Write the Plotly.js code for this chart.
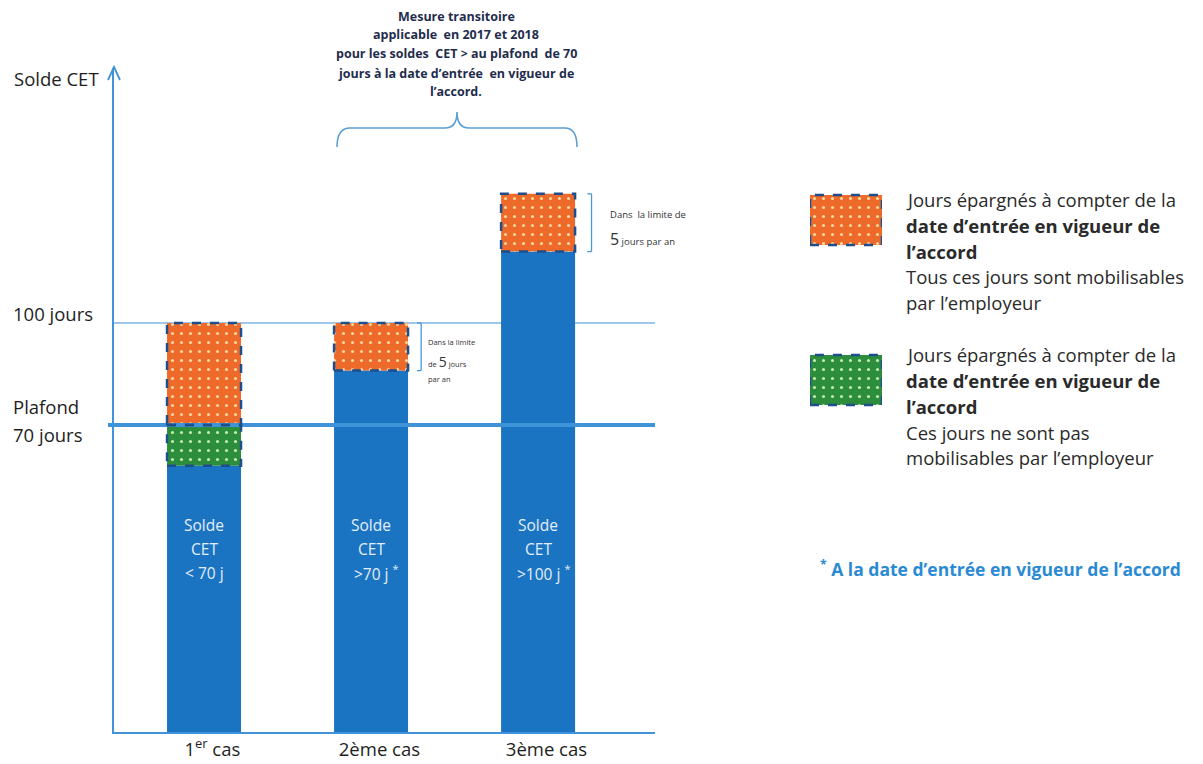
<!DOCTYPE html>
<html><head><meta charset="utf-8">
<script src="https://cdn.plot.ly/plotly-3.0.1.min.js"></script>
<style>html,body{margin:0;padding:0;background:#fff}#chart{width:1203px;height:764px}</style>
</head><body><div id="chart"></div>
<script>
// ---- data (schematic values in "jours") ----
const categories = ["1<sup>er</sup> cas", "2ème cas", "3ème cas"];
const soldeTop = [58, 86, 121];        // solde CET à la date d'entrée en vigueur (bleu)
const greenTop = [70, null, null];     // jours non mobilisables (vert)
const orangeTop = [100, 100, 138];     // jours mobilisables (orange)
const barLine1 = ["Solde", "Solde", "Solde"];
const barLine2 = ["CET", "CET", "CET"];
const barLine3 = ["&lt; 70 j", "&gt;70 j <sup>*</sup>", "&gt;100 j <sup>*</sup>"];
const levelValues = [100, 70];
const axisFloor = -20.3, axisTop = 175;

const W = 1203, H = 764;
const px = x => x / W, py = y => 1 - y / H;
const FONT = "'Open Sans', 'Noto Sans', sans-serif";
const BLUE = '#1b74c2', ORANGE = '#ee6a2b', GREEN = '#2c8e3c', DASH = '#1f4e8c', AXIS = '#3f93d8';
const barW = 0.443;

const idx = categories.map((_, i) => i);
const greenBase = soldeTop, greenH = greenTop.map((g, i) => g == null ? null : g - soldeTop[i]);
const orangeBase = orangeTop.map((_, i) => greenTop[i] != null ? greenTop[i] : soldeTop[i]);
const orangeH = orangeTop.map((o, i) => o - orangeBase[i]);
const patO = {shape: '.', fgcolor: '#ffd9a0', bgcolor: ORANGE, size: 9, solidity: 0.09, fillmode: 'replace'};
const patG = {shape: '.', fgcolor: '#c8f0b0', bgcolor: GREEN, size: 9, solidity: 0.09, fillmode: 'replace'};

const traces = [
  {type: 'bar', x: idx, y: soldeTop.map(v => v - axisFloor), base: idx.map(() => axisFloor), width: barW,
   marker: {color: BLUE, line: {width: 0}}, hoverinfo: 'skip'},
  {type: 'bar', x: idx, y: greenH, base: greenBase, width: barW, marker: {color: GREEN, line: {width: 0}, pattern: patG}, hoverinfo: 'skip'},
  {type: 'bar', x: idx, y: orangeH, base: orangeBase, width: barW, marker: {color: ORANGE, line: {width: 0}, pattern: patO}, hoverinfo: 'skip'},
  // legend swatches
  {type: 'bar', orientation: 'h', x: [1], y: [1], width: 0.3125, xaxis: 'x2', yaxis: 'y2', marker: {color: ORANGE, line: {width: 0}, pattern: patO}, hoverinfo: 'skip'},
  {type: 'bar', orientation: 'h', x: [1], y: [0], width: 0.3125, xaxis: 'x2', yaxis: 'y2', marker: {color: GREEN, line: {width: 0}, pattern: patG}, hoverinfo: 'skip'}
];

const shapes = [];
shapes.push({type: 'line', layer: 'below', xref: 'paper', yref: 'y', x0: px(114), x1: px(655), y0: levelValues[0], y1: levelValues[0], line: {color: '#7db6e4', width: 1.5}});
shapes.push({type: 'line', layer: 'above', xref: 'paper', yref: 'y', x0: px(108), x1: px(655), y0: levelValues[1], y1: levelValues[1], line: {color: AXIS, width: 4}});
idx.forEach(i => {
  if (greenH[i] != null) shapes.push({type: 'rect', xref: 'x', yref: 'y', x0: i - barW/2, x1: i + barW/2, y0: greenBase[i], y1: greenTop[i], line: {color: DASH, width: 2.5, dash: 'dash'}});
  shapes.push({type: 'rect', xref: 'x', yref: 'y', x0: i - barW/2, x1: i + barW/2, y0: orangeBase[i], y1: orangeTop[i], line: {color: DASH, width: 2.5, dash: 'dash'}});
});
[1, 2].forEach(i => {
  const bx = i + 0.3 + (i === 2 ? 0.02 : 0), h = 0.025;
  const c = {color: '#4a98d6', width: 1.3};
  shapes.push({type: 'line', xref: 'x', yref: 'y', x0: bx, x1: bx, y0: orangeBase[i], y1: orangeTop[i], line: c});
  shapes.push({type: 'line', xref: 'x', yref: 'y', x0: bx - h, x1: bx, y0: orangeTop[i], y1: orangeTop[i], line: c});
  shapes.push({type: 'line', xref: 'x', yref: 'y', x0: bx - h, x1: bx, y0: orangeBase[i], y1: orangeBase[i], line: c});
});
shapes.push({type: 'path', xref: 'paper', yref: 'paper', path: `M${px(108)},${py(80)} L${px(114)},${py(67)} L${px(120)},${py(80)}`, line: {color: AXIS, width: 1.8}});
const P = (x, y) => `${px(x)},${py(y)}`;
shapes.push({type: 'path', xref: 'paper', yref: 'paper', line: {color: '#5a9fd4', width: 1.6},
  path: `M${P(337,147)} Q${P(337,128)} ${P(350,128)} L${P(445,128)} Q${P(457,128)} ${P(457,112)} Q${P(457,128)} ${P(469,128)} L${P(565,128)} Q${P(577,128)} ${P(577,147)}`});
shapes.push({type: 'rect', xref: 'x2', yref: 'y2', x0: 0, x1: 1, y0: 1 - 0.156, y1: 1 + 0.156, line: {color: DASH, width: 2.5, dash: 'dash'}});
shapes.push({type: 'rect', xref: 'x2', yref: 'y2', x0: 0, x1: 1, y0: -0.156, y1: 0.156, line: {color: DASH, width: 2.5, dash: 'dash'}});

const ann = [];
const A = (o) => ann.push(Object.assign({showarrow: false, align: 'left', font: {family: FONT, size: 18.5, color: '#1e1e1e'}}, o));
A({xref: 'paper', yref: 'paper', x: px(12), y: py(79), xanchor: 'left', yanchor: 'middle', text: 'Solde CET'});
A({xref: 'paper', yref: 'paper', x: px(11), y: py(314), xanchor: 'left', yanchor: 'middle', text: '100 jours'});
A({xref: 'paper', yref: 'paper', x: px(11), y: py(406), xanchor: 'left', yanchor: 'middle', text: 'Plafond'});
A({xref: 'paper', yref: 'paper', x: px(11), y: py(434), xanchor: 'left', yanchor: 'middle', text: '70 jours'});
idx.forEach(i => {
  [barLine1[i], barLine2[i], barLine3[i]].forEach((t, k) => {
    A({xref: 'x', yref: 'paper', x: i + (k === 2 && i > 0 ? 0.03 : 0), y: py(525 + 24 * k), xanchor: 'center', yanchor: 'middle', text: t,
       font: {family: FONT, size: 15.5, color: '#e4eefa'}});
  });
});
["Mesure transitoire", "applicable  en 2017 et 2018", "pour les soldes  CET &gt; au plafond  de 70", "jours à la date d’entrée  en vigueur de", "l’accord."]
  .forEach((t, k) => A({xref: 'paper', yref: 'paper', x: px(456), y: py(16 + 19 * k), xanchor: 'center', yanchor: 'middle', text: '<b>' + t + '</b>',
    font: {family: FONT, size: 12.5, color: '#1f2d4d'}}));
const small = {family: FONT, size: 7.5, color: '#333'};
const small3 = {family: FONT, size: 9.5, color: '#333'};
const big5 = '<span style="font-size:14px">5</span>';
const big5b = '<span style="font-size:16px">5</span>';
A({xref: 'x', yref: 'paper', x: 1.33, y: py(342), xanchor: 'left', yanchor: 'middle', text: 'Dans la limite', font: small});
A({xref: 'x', yref: 'paper', x: 1.33, y: py(361), xanchor: 'left', yanchor: 'middle', text: 'de ' + big5 + ' jours', font: small});
A({xref: 'x', yref: 'paper', x: 1.33, y: py(379), xanchor: 'left', yanchor: 'middle', text: 'par an', font: small});
A({xref: 'x', yref: 'paper', x: 2.42, y: py(214), xanchor: 'left', yanchor: 'middle', text: 'Dans  la limite de', font: small3});
A({xref: 'x', yref: 'paper', x: 2.42, y: py(239), xanchor: 'left', yanchor: 'middle', text: big5b + ' jours par an', font: small3});
const leg1 = ["Jours épargnés à compter de la", "<b>date d’entrée en vigueur de</b>", "<b>l’accord</b>", "Tous ces jours sont mobilisables", "par l’employeur"];
const leg2 = ["Jours épargnés à compter de la", "<b>date d’entrée en vigueur de</b>", "<b>l’accord</b>", "Ces jours ne sont pas", "mobilisables par l’employeur"];
leg1.forEach((t, k) => A({xref: 'paper', yref: 'paper', x: px(904), y: py(200 + 25.5 * k), xanchor: 'left', yanchor: 'middle', text: t, font: {family: FONT, size: 18.5, color: '#2a2a2a'}}));
leg2.forEach((t, k) => A({xref: 'paper', yref: 'paper', x: px(904), y: py(355 + 25.7 * k), xanchor: 'left', yanchor: 'middle', text: t, font: {family: FONT, size: 18.5, color: '#2a2a2a'}}));
A({xref: 'paper', yref: 'paper', x: px(818), y: py(568), xanchor: 'left', yanchor: 'middle',
   text: '<b><sup>*</sup> A la date d’entrée en vigueur de l’accord</b>', font: {family: FONT, size: 17.5, color: '#2a8ad2'}});

const layout = {
  width: W, height: H, margin: {l: 0, r: 0, t: 0, b: 0}, paper_bgcolor: '#fff', plot_bgcolor: 'rgba(0,0,0,0)',
  showlegend: false, barmode: 'overlay',
  xaxis: {domain: [px(114), px(655)], range: [-0.539, 2.70], tickvals: idx.map(i => i + 0.05), ticktext: categories, showline: true, linecolor: AXIS, linewidth: 2,
          showgrid: false, zeroline: false, ticks: '', tickfont: {family: FONT, size: 18.5, color: '#1e1e1e'}, fixedrange: true},
  yaxis: {domain: [py(732), py(68)], range: [axisFloor, axisTop], showline: true, linecolor: AXIS, linewidth: 2, showgrid: false,
          zeroline: false, showticklabels: false, ticks: '', fixedrange: true},
  xaxis2: {domain: [px(810), px(882)], range: [0, 1], visible: false, anchor: 'y2'},
  yaxis2: {domain: [py(460), py(140)], range: [-0.5, 1.5], visible: false, anchor: 'x2'},
  shapes: shapes, annotations: ann, font: {family: FONT}
};
Plotly.newPlot('chart', traces, layout, {staticPlot: true});
</script></body></html>
